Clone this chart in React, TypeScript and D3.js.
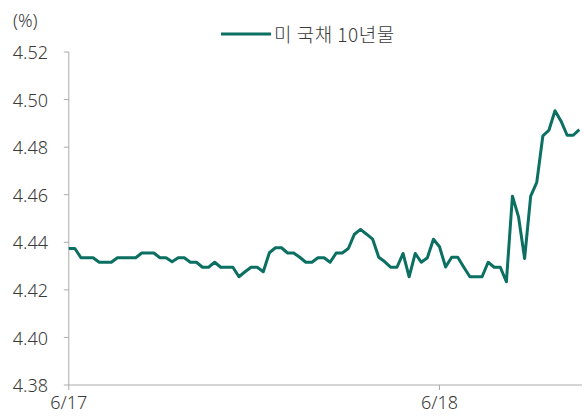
import React from "react";
import * as d3 from "d3";

// 미 국채 10년물 yield, 6/17 ~ 6/18 (intraday)
const yields = [
  4.4374, 4.4374, 4.4335, 4.4335, 4.4335, 4.4316, 4.4316, 4.4316, 4.4335, 4.4335,
  4.4335, 4.4335, 4.4355, 4.4355, 4.4355, 4.4335, 4.4335, 4.4318, 4.4335, 4.4335,
  4.4316, 4.4316, 4.4295, 4.4295, 4.4316, 4.4295, 4.4295, 4.4295, 4.4255, 4.4276,
  4.4295, 4.4295, 4.4276, 4.4356, 4.4377, 4.4377, 4.4355, 4.4355, 4.4337, 4.4316,
  4.4316, 4.4335, 4.4335, 4.4316, 4.4355, 4.4355, 4.4374, 4.4434, 4.4454, 4.4434,
  4.4413, 4.4337, 4.4318, 4.4295, 4.4295, 4.4353, 4.4255, 4.4353, 4.4316, 4.4335,
  4.4413, 4.4381, 4.4296, 4.4337, 4.4337, 4.4295, 4.4255, 4.4255, 4.4255, 4.4316,
  4.4295, 4.4295, 4.4234, 4.4594, 4.4507, 4.4332, 4.4594, 4.4652, 4.4847, 4.4871,
  4.4953, 4.4909, 4.485, 4.485, 4.4874,
];
const dateTicks = ["6/17", "6/18"];
const dateTickIndex = [0, 61];
const yTicks = [4.38, 4.4, 4.42, 4.44, 4.46, 4.48, 4.5, 4.52];
const seriesName = "미 국채 10년물";

const W = 584;
const H = 418;
const left = 68.8;
const right = 579.3;
const top = 52;
const bottom = 385;
const lineColor = "#0b6f62";
const axisColor = "#ababab";
const textColor = "#3a3a3a";
const font = "'Noto Sans', 'Noto Sans CJK KR', sans-serif";

const App = () => {
  const x = d3.scaleLinear().domain([0, yields.length - 1]).range([left, right]);
  const y = d3.scaleLinear().domain([4.38, 4.52]).range([bottom, top]);
  const line = d3
    .line<number>()
    .x((d, i) => x(i))
    .y((d) => y(d));

  return (
    <svg
      width={W}
      height={H}
      style={{ position: "absolute", left: 0, top: 0, background: "#fff" }}
      fontFamily={font}
    >
      <text x={13} y={27} fontSize={18} fill={textColor} fontWeight={300}>
        (%)
      </text>

      {/* legend */}
      <line x1={221} x2={271} y1={34} y2={34} stroke={lineColor} strokeWidth={3} />
      <text
        x={274}
        y={41.5}
        fontSize={19}
        fill={textColor}
        fontFamily="'Noto Sans CJK KR', sans-serif"
        fontWeight={300}
        letterSpacing={0.5}
      >
        {seriesName}
      </text>

      {/* y axis */}
      <line x1={left} x2={left} y1={y(4.52)} y2={bottom} stroke={axisColor} strokeWidth={1} />
      {yTicks.map((t) => (
        <g key={t}>
          <line x1={left - 5} x2={left} y1={y(t)} y2={y(t)} stroke={axisColor} />
          <text
            x={48}
            y={y(t)}
            dy="0.4em"
            textAnchor="end"
            fontSize={18}
            fill={textColor}
            fontWeight={300}
          >
            {d3.format(".2f")(t)}
          </text>
        </g>
      ))}

      {/* x axis */}
      <line x1={left} x2={582} y1={bottom} y2={bottom} stroke={axisColor} strokeWidth={1} />
      {dateTicks.map((d, k) => (
        <g key={d}>
          <line
            x1={x(dateTickIndex[k])}
            x2={x(dateTickIndex[k])}
            y1={bottom}
            y2={bottom + 5}
            stroke={axisColor}
          />
          <text
            x={x(dateTickIndex[k])}
            y={bottom + 24}
            textAnchor="middle"
            fontSize={18}
            fill={textColor}
            fontWeight={300}
          >
            {d}
          </text>
        </g>
      ))}

      <path
        d={line(yields) || ""}
        fill="none"
        stroke={lineColor}
        strokeWidth={3}
        strokeLinejoin="round"
      />
    </svg>
  );
};

export default App;
